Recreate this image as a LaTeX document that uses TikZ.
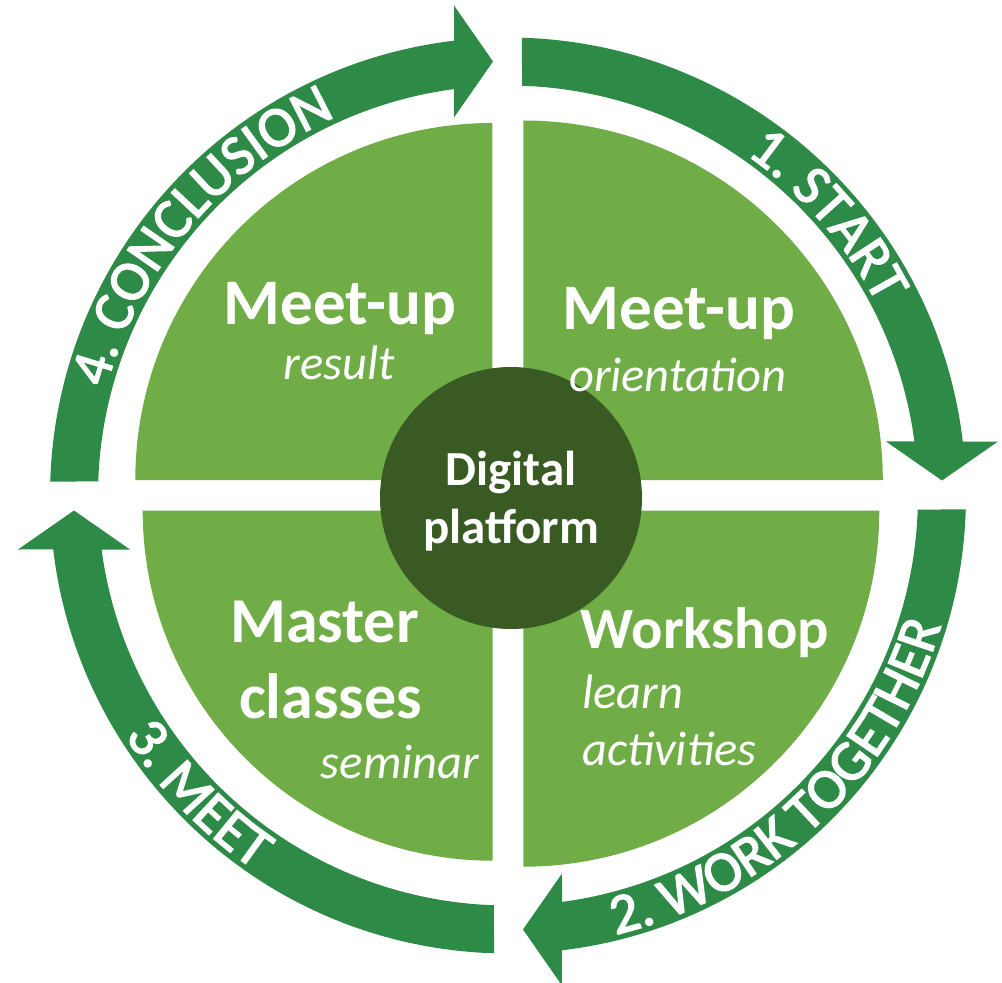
\documentclass[tikz,border=0pt]{standalone}
\usepackage{fontspec}
\setmainfont{Carlito}
\newfontfamily\ringfam[FakeBold=2.5]{Carlito}
\usetikzlibrary{decorations.text}
\definecolor{arrowgreen}{HTML}{2D8A47}
\definecolor{quadgreen}{HTML}{70AD47}
\definecolor{hubgreen}{HTML}{3A5A24}
\newcommand\ringfont{\ringfam\fontsize{57}{60}\selectfont}
\begin{document}
\begin{tikzpicture}[x=1pt,y=1pt,
  ringarrow/.style={fill=arrowgreen, draw=none},
  quadrant/.style={fill=quadgreen, draw=none},
  title/.style={text=white, font=\fontsize{64}{70}\selectfont\bfseries, inner sep=0pt, anchor=base},
  sub/.style={text=white, font=\fontsize{48.5}{52}\selectfont\itshape, inner sep=0pt, anchor=base},
  hubtext/.style={text=white, font=\fontsize{49}{52}\selectfont\bfseries, inner sep=0pt, anchor=base}
]
\useasboundingbox (-508,-487.5) rectangle (494,495.5);

% ring arrows (same shape, rotated clockwise by quarter turns)
\foreach \r in {0,-90,-180,-270}{
  \fill[ringarrow, rotate=\r] (88.25:458pt) arc[start angle=88.25, end angle=6.77, radius=458pt]
    -- (490,54) -- (434,15) -- (378,54) -- (7.57:410pt)
    arc[start angle=7.57, end angle=88.04, radius=410pt] -- cycle;
}

% ring labels
\path[decorate, decoration={text along path, text align=center, text color=white,
  text={|\ringfont|4. CONCLUSION}}] (179.75:416pt) arc[start angle=179.75, end angle=99.75, radius=416pt];
\path[decorate, decoration={text along path, text align=center, text color=white,
  text={|\ringfont|1. START}}] (81.2:416pt) arc[start angle=81.2, end angle=1.2, radius=416pt];
\path[decorate, decoration={text along path, text align=center, text color=white,
  text={|\ringfont|2. WORK TOGETHER}}] (-91.5:452pt) arc[start angle=-91.5, end angle=-1.5, radius=452pt];
\path[decorate, decoration={text along path, text align=center, text color=white,
  text={|\ringfont|3. MEET}}] (184:452pt) arc[start angle=184, end angle=264, radius=452pt];

% quadrants
\fill[quadrant] (-15.7,15.5) -- ++(-357,0) arc[start angle=180, end angle=90, radius=357pt] -- cycle;
\fill[quadrant] (15.3,15.5) -- ++(0,359.5) arc[start angle=90, end angle=0, radius=359.5pt] -- cycle;
\fill[quadrant] (-15.3,-15.2) -- ++(0,-350) arc[start angle=270, end angle=180, radius=350pt] -- cycle;
\fill[quadrant] (15.3,-15.2) -- ++(356,0) arc[start angle=0, end angle=-90, radius=356pt] -- cycle;

% hub
\node[circle, fill=hubgreen, minimum size=262pt, inner sep=0pt] (hub) at (3,-2.5) {};
\node[hubtext] (hub1) at (3,10.5) {Digital};
\node[hubtext] (hub2) at (3,-47.5) {platform};

% quadrant texts
\node[title, font=\fontsize{65}{70}\selectfont\bfseries] (tl1) at (-168,170.5) {Meet-up};
\node[sub] (tl2) at (-169,115.5) {result};
\node[title, font=\fontsize{65}{70}\selectfont\bfseries] (tr1) at (171,165.5) {Meet-up};
\node[sub] (tr2) at (170,103.5) {orientation};
\node[title] (bl1) at (-183.5,-146.5) {Master};
\node[title] (bl2) at (-177.5,-222.5) {classes};
\node[sub] (bl3) at (-108,-282.5) {seminar};
\node[title, font=\fontsize{58.5}{64}\selectfont\bfseries] (br1) at (197,-152.5) {Workshop};
\node[sub, anchor=base west] (br2) at (74,-212.5) {learn};
\node[sub, anchor=base west] (br3) at (74,-269.5) {activities};
\end{tikzpicture}
\end{document}
